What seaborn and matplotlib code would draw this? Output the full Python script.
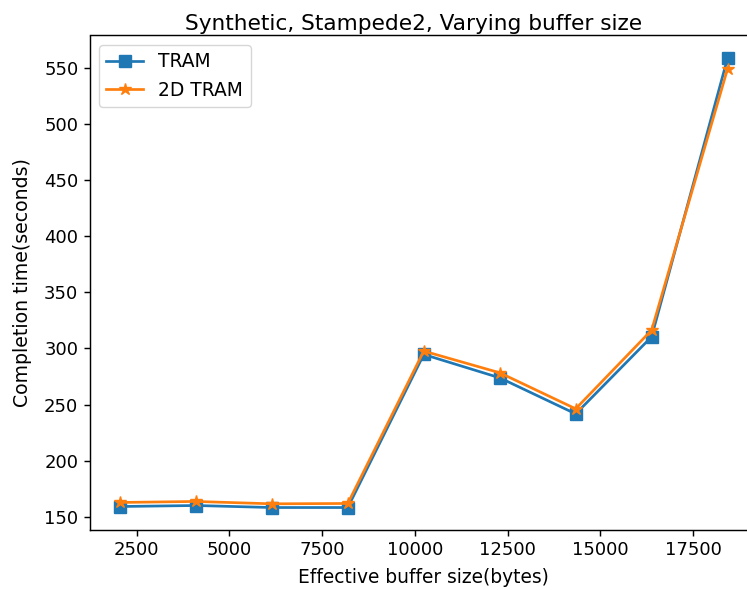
import matplotlib
matplotlib.use("Agg")
import matplotlib.pyplot as plt
import seaborn as sns
import pandas as pd

# Effective buffer sizes (bytes) and completion times (seconds)
buffer_sizes = [2048, 4096, 6144, 8192, 10240, 12288, 14336, 16384, 18432]
tram_times = [159.2, 160.1, 158.3, 158.3, 294.6, 273.8, 241.7, 310.4, 558.6]
tram2d_times = [162.8, 163.7, 161.6, 161.9, 297.6, 278.3, 246.2, 316.3, 549.1]

series_names = ["TRAM", "2D TRAM"]
series_colors = ["#1f77b4", "#ff7f0e"]
series_markers = ["s", "*"]
series_msizes = [8.5, 9.0]

df = pd.DataFrame({
    "size": buffer_sizes * 2,
    "time": tram_times + tram2d_times,
    "impl": [series_names[0]] * len(buffer_sizes) + [series_names[1]] * len(buffer_sizes),
})

scale = 1.3
plt.rcParams.update({
    "font.family": ["DejaVu Sans"],
    "font.size": 10 * scale,
    "axes.linewidth": 0.8 * scale,
    "xtick.major.size": 3.5 * scale,
    "ytick.major.size": 3.5 * scale,
    "xtick.major.width": 0.8 * scale,
    "ytick.major.width": 0.8 * scale,
})

fig = plt.figure(figsize=(7.47, 5.90), dpi=100)
ax = fig.add_axes([89.5 / 747, 60 / 590, 668.5 / 747, 494.5 / 590])

for name, color, marker, ms in zip(series_names, series_colors, series_markers, series_msizes):
    sub = df[df["impl"] == name]
    sns.lineplot(data=sub, x="size", y="time", ax=ax, color=color,
                 marker=marker, markersize=ms,
                 markeredgecolor=color, markeredgewidth=1,
                 linewidth=1.5 * scale, label=name)

ax.set_title("Synthetic, Stampede2, Varying buffer size", fontsize=12 * scale,
             x=0.485, pad=4)
ax.set_xlabel("Effective buffer size(bytes)", fontsize=13.4, labelpad=6.5)
ax.set_ylabel("Completion time(seconds)", fontsize=13.6, labelpad=9)
ax.set_yticks([150, 200, 250, 300, 350, 400, 450, 500, 550])
ax.set_xticks([2500, 5000, 7500, 10000, 12500, 15000, 17500])
ax.tick_params(labelsize=10 * scale)
ax.legend(loc="upper left", fontsize=13.4)

fig.savefig("out.png", dpi=100)
